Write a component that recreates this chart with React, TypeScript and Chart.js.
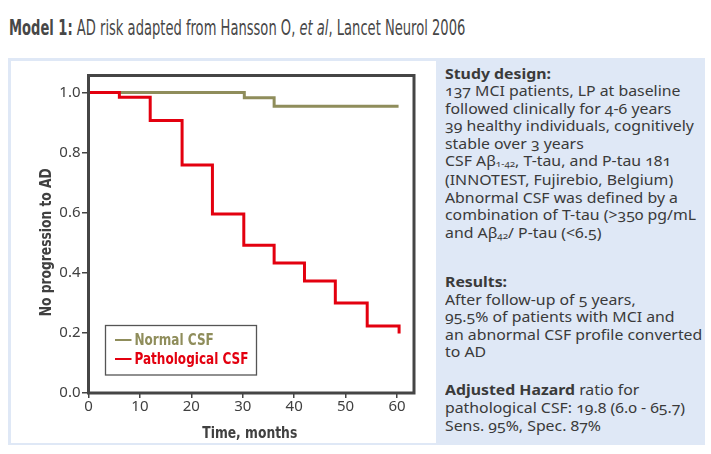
import React, { useEffect, useLayoutEffect, useRef } from "react";
import { Chart, registerables } from "chart.js";
Chart.register(...registerables);

// ---------- data ----------
const seriesLabels = ["Normal CSF", "Pathological CSF"];
const normalMonths = [0, 30.3, 36.1, 60.3];
const normalSurvival = [1.0, 0.983, 0.955, 0.955];
const pathologicalMonths = [0, 6.0, 12.0, 18.2, 24.1, 30.2, 36.1, 42.0, 48.0, 54.2, 60.4];
const pathologicalSurvival = [1.0, 0.985, 0.907, 0.759, 0.596, 0.492, 0.433, 0.373, 0.3, 0.223, 0.198];
const xTickValues = [0, 10, 20, 30, 40, 50, 60];
const yTickValues = [0, 0.2, 0.4, 0.6, 0.8, 1.0];
const xAxisTitle = "Time, months";
const yAxisTitle = "No progression to AD";

// ---------- styles ----------
const OLIVE = "#8f8d5b";
const RED = "#e3000f";
const AXIS = "#454545";
const TEXT = "#404040";
const BLUE = "#dfe8f6";
const CFONT = "'Liberation Sans Narrow', 'DejaVu Sans Condensed', sans-serif";
const SFONT = "'Noto Sans', 'Open Sans', sans-serif";

const decorPlugin = {
  id: "decor",
  afterDraw(chart: any) {
    const { ctx, chartArea: a } = chart;
    ctx.save();
    // frame
    ctx.strokeStyle = AXIS;
    ctx.lineWidth = 3;
    ctx.strokeRect(a.left, a.top, a.right - a.left, a.bottom - a.top);

    // legend box
    const bx = a.left + 17;
    const bh = 49.5;
    const by = a.bottom - 18 - bh;
    const bw = 151;
    ctx.lineWidth = 1.3;
    ctx.strokeStyle = "#555";
    ctx.strokeRect(bx, by, bw, bh);
    ctx.font = `bold 16.5px ${CFONT}`;
    const ds = chart.data.datasets;
    const lscale = 114 / ctx.measureText(ds[1].label).width;
    ds.forEach((d: any, i: number) => {
      const y = by + 14.5 + i * 19;
      ctx.strokeStyle = d.borderColor;
      ctx.lineWidth = 2;
      ctx.beginPath();
      ctx.moveTo(bx + 9.5, y);
      ctx.lineTo(bx + 26, y);
      ctx.stroke();
      ctx.fillStyle = d.borderColor;
      ctx.textBaseline = "middle";
      ctx.textAlign = "left";
      ctx.save();
      ctx.translate(bx + 29, y + 1);
      ctx.scale(lscale, 1);
      ctx.fillText(d.label, 0, 0);
      ctx.restore();
    });

    // axis titles
    ctx.fillStyle = TEXT;
    ctx.font = `bold 16.5px ${CFONT}`;
    ctx.textAlign = "center";
    ctx.textBaseline = "alphabetic";
    const xs = 95 / ctx.measureText(xAxisTitle).width;
    ctx.save();
    ctx.translate((a.left + a.right) / 2 - 1.5, a.bottom + 45.3);
    ctx.scale(xs, 1);
    ctx.fillText(xAxisTitle, 0, 0);
    ctx.restore();

    const ys = 148 / ctx.measureText(yAxisTitle).width;
    ctx.save();
    ctx.translate(39.5, (a.top + a.bottom) / 2 + 8);
    ctx.rotate(-Math.PI / 2);
    ctx.scale(ys, 1);
    ctx.fillText(yAxisTitle, 0, 0);
    ctx.restore();

    ctx.restore();
  },
};

function KMChart() {
  const ref = useRef<HTMLCanvasElement>(null);
  useEffect(() => {
    const canvas = ref.current!;
    const chart = new Chart(canvas, {
      type: "line",
      data: {
        datasets: [
          {
            label: seriesLabels[0],
            data: normalMonths.map((x, i) => ({ x, y: normalSurvival[i] })),
            stepped: "before",
            borderColor: OLIVE,
            backgroundColor: OLIVE,
            borderWidth: 3,
            pointRadius: 0,
            fill: false,
            order: 1,
          },
          {
            label: seriesLabels[1],
            data: pathologicalMonths.map((x, i) => ({ x, y: pathologicalSurvival[i] })),
            stepped: "before",
            borderColor: RED,
            backgroundColor: RED,
            borderWidth: 3,
            pointRadius: 0,
            fill: false,
            order: 0,
          },
        ],
      },
      options: {
        animation: false,
        responsive: false,
        maintainAspectRatio: false,
        layout: { padding: { left: 0, top: 14.5, right: 22, bottom: 0 } },
        plugins: { legend: { display: false }, tooltip: { enabled: false } },
        scales: {
          x: {
            type: "linear",
            min: 0,
            max: 63.3,
            afterFit: (s: any) => {
              s.height = 50;
            },
            afterBuildTicks: (s: any) => {
              s.ticks = xTickValues.map((v) => ({ value: v }));
            },
            ticks: {
              color: TEXT,
              font: { family: SFONT, size: 15 },
              padding: 0,
              maxRotation: 0,
              callback: (v: any) => String(v),
            },
            grid: { drawOnChartArea: false, tickLength: 5, color: AXIS, lineWidth: 1.5 },
            border: { display: false },
          },
          y: {
            type: "linear",
            min: 0,
            max: 1.057,
            afterFit: (s: any) => {
              s.width = 77.5;
            },
            afterBuildTicks: (s: any) => {
              s.ticks = yTickValues.map((v) => ({ value: v }));
            },
            ticks: {
              color: TEXT,
              font: { family: SFONT, size: 15 },
              padding: 1.5,
              callback: (v: any) => Number(v).toFixed(1),
            },
            grid: { drawOnChartArea: false, tickLength: 6.5, color: AXIS, lineWidth: 1.5 },
            border: { display: false },
          },
        },
      },
      plugins: [decorPlugin],
    } as any);
    (document as any).fonts?.ready?.then(() => chart.update());
    return () => chart.destroy();
  }, []);
  return (
    <canvas
      ref={ref}
      width={425}
      height={382}
      style={{ position: "absolute", left: 11, top: 61, width: 425, height: 382 }}
    />
  );
}

const sub: React.CSSProperties = { fontSize: "0.62em", position: "relative", top: "0.15em", verticalAlign: "baseline" };

export default function App() {
  const titleRef = useRef<HTMLSpanElement>(null);
  const panelRef = useRef<HTMLDivElement>(null);
  const lineRef = useRef<HTMLSpanElement>(null);

  useLayoutEffect(() => {
    document.body.style.margin = "0";
    const fit = () => {
      const t = titleRef.current;
      if (t) t.style.transform = `scaleX(${456.5 / t.offsetWidth})`;
      const l = lineRef.current;
      const p = panelRef.current;
      if (l && p) p.style.transform = `scaleX(${257.7 / l.offsetWidth})`;
    };
    fit();
    (document as any).fonts?.ready?.then(fit);
  }, []);

  const para: React.CSSProperties = { position: "absolute", left: 0, whiteSpace: "nowrap" };

  return (
    <div
      style={{
        position: "relative",
        width: 711,
        height: 454,
        background: "#fff",
        overflow: "hidden",
        color: TEXT,
      }}
    >
      <div style={{ position: "absolute", left: 8.5, top: 17, fontFamily: CFONT, fontSize: 22, lineHeight: "22px", color: "#474747", whiteSpace: "nowrap" }}>
        <span ref={titleRef} style={{ display: "inline-block", transformOrigin: "left center" }}>
          <b>Model 1:</b> AD risk adapted from Hansson O, <i>et al</i>, Lancet Neurol 2006
        </span>
      </div>

      <div style={{ position: "absolute", left: 8, top: 58, width: 697, height: 387, background: BLUE }} />
      <div style={{ position: "absolute", left: 11, top: 61, width: 425, height: 381.5, background: "#fff" }} />

      <KMChart />

      <div
        ref={panelRef}
        style={{
          position: "absolute",
          left: 445,
          top: 0,
          width: 300,
          height: 454,
          fontFamily: SFONT,
          fontSize: 14.5,
          color: "#3a3a3a",
          transformOrigin: "left top",
          fontVariantNumeric: "oldstyle-nums",
        }}
      >
        <div style={{ ...para, top: 65, lineHeight: "17.4px" }}>
          <div><b>Study design:</b></div>
          <div>137 MCI patients, LP at baseline</div>
          <div>followed clinically for 4-6 years</div>
          <div>39 healthy individuals, cognitively</div>
          <div>stable over 3 years</div>
          <div>CSF Aβ<span style={sub}>1-42</span>, T-tau, and P-tau 181</div>
          <div>(INNOTEST, Fujirebio, Belgium)</div>
          <div>Abnormal CSF was defined by a</div>
          <div>combination of T-tau (&gt;350 pg/mL</div>
          <div>and Aβ<span style={sub}>42</span>/ P-tau (&lt;6.5)</div>
        </div>
        <div style={{ ...para, top: 273, lineHeight: "17.5px" }}>
          <div><b>Results:</b></div>
          <div>After follow-up of 5 years,</div>
          <div>95.5% of patients with MCI and</div>
          <div><span ref={lineRef}>an abnormal CSF profile converted</span></div>
          <div>to AD</div>
        </div>
        <div style={{ ...para, top: 379.5, lineHeight: "18.2px" }}>
          <div><b>Adjusted Hazard</b> ratio for</div>
          <div>pathological CSF: 19.8 (6.0 - 65.7)</div>
          <div>Sens. 95%, Spec. 87%</div>
        </div>
      </div>
    </div>
  );
}
